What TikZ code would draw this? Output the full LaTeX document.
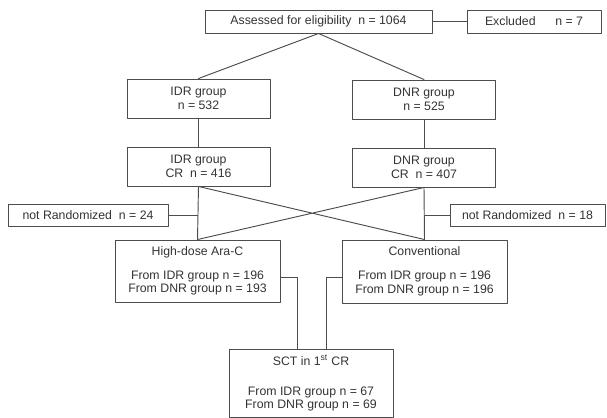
\documentclass[tikz,border=0pt]{standalone}
\usepackage{fontspec}
\setmainfont{Liberation Sans}
\begin{document}
\begin{tikzpicture}[x=0.03cm,y=-0.03cm,line join=round,line cap=round,
	box/.style={draw=black!70,line width=0.8pt,text=black!80,font=\fontsize{10.5}{11.5}\selectfont,align=center,inner sep=0pt},
	link/.style={draw=black!70,line width=0.8pt}]
				\useasboundingbox (0,0) rectangle (607,418);
				\node[box,minimum width=6.81cm,minimum height=0.69cm] (assess) at (318.5,21.5) {Assessed for eligibility\ \ n = 1064};
				\node[box,minimum width=4.02cm,minimum height=0.69cm] (excl) at (534,21.5) {Excluded\hspace{1.6em}n = 7};
				\node[box,minimum width=4.29cm,minimum height=1.17cm] (idr) at (198.5,98.5) {IDR group\\n = 532};
				\node[box,minimum width=4.29cm,minimum height=1.17cm] (dnr) at (424,99.5) {DNR group\\n = 525};
				\node[box,minimum width=4.29cm,minimum height=1.17cm] (idrcr) at (198.5,166.5) {IDR group\\CR\ \ n = 416};
				\node[box,minimum width=4.29cm,minimum height=1.17cm] (dnrcr) at (424,167.5) {DNR group\\CR\ \ n = 407};
				\node[box,minimum width=4.8cm,minimum height=0.66cm] (nrl) at (88,215) {not Randomized\ \ n = 24};
				\node[box,minimum width=4.65cm,minimum height=0.66cm] (nrr) at (527.5,215) {not Randomized\ \ n = 18};
				\node[box,minimum width=4.95cm,minimum height=1.86cm] (hd) at (197.5,271) {High-dose Ara-C\\[9pt]From IDR group n = 196\\From DNR group n = 193};
				\node[box,minimum width=4.95cm,minimum height=1.89cm] (conv) at (424.5,271.5) {Conventional\\[9pt]From IDR group n = 196\\From DNR group n = 196};
				\node[box,minimum width=4.92cm,minimum height=2.04cm] (sct) at (311,383) {SCT in 1\textsuperscript{st} CR\\[14pt]From IDR group n = 67\\From DNR group n = 69};
				\draw[link] (assess.east)--(excl.west);
				\draw[link] (assess.south)--(idr.north) (assess.south)--(dnr.north);
				\draw[link] (idr.south)--(idrcr.north) (dnr.south)--(dnrcr.north);
				\draw[link] (idrcr.south)--(hd.north) (dnrcr.south)--(conv.north);
				\draw[link] (idrcr.south)--(conv.north) (dnrcr.south)--(hd.north);
				\draw[link] (nrl.east)--(nrl -| hd.north);
				\draw[link] (nrr.west)--(nrr -| conv.north);
				\draw[link] ([yshift=-0.18cm]hd.east) -| ([xshift=-0.42cm]sct.north);
				\draw[link] ([yshift=-0.18cm]conv.west) -| ([xshift=0.45cm]sct.north);
			\end{tikzpicture}
\end{document}
